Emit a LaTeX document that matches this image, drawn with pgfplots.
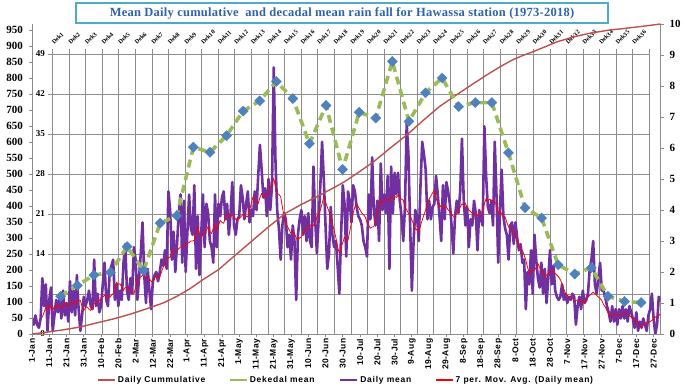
\documentclass[border=0pt]{standalone}
\usepackage{pgfplots}
\pgfplotsset{compat=1.18}
\usepackage{pgfplotstable}
\usepackage{fontspec}
\setmainfont{Liberation Serif}
\newfontfamily\lsans{Liberation Sans}[LetterSpace=5]
\newfontfamily\lsansleg{Liberation Sans}[LetterSpace=9]
\newfontfamily\titlefont{Liberation Serif}[LetterSpace=2]
\definecolor{gridgray}{RGB}{140,140,140}
\definecolor{dailypurple}{RGB}{112,48,160}
\definecolor{dekgreen}{RGB}{155,187,89}
\definecolor{dekblue}{RGB}{79,129,189}
\definecolor{cumred}{RGB}{192,80,77}
\definecolor{mared}{RGB}{255,0,0}
\definecolor{titleblue}{RGB}{45,100,170}
\definecolor{titleframe}{RGB}{75,172,198}

\pgfplotstableread[row sep=\\]{v\\
0.5\\0.3\\0.6\\0.3\\0.2\\0.5\\1.8\\0.9\\1.6\\0.1\\
1.1\\1.5\\0.1\\0.6\\1.1\\0.7\\1.2\\0.5\\1.4\\0.6\\
1.0\\0.4\\1.7\\0.7\\1.4\\0.6\\1.9\\0.8\\0.1\\0.6\\
1.2\\0.9\\1.1\\1.4\\0.9\\0.8\\2.4\\0.9\\1.3\\0.7\\
0.9\\1.6\\2.3\\1.1\\0.9\\2.0\\2.2\\2.4\\1.1\\1.6\\
0.9\\1.4\\1.1\\2.3\\2.9\\1.4\\1.1\\1.8\\1.3\\2.8\\
2.4\\1.1\\1.8\\2.6\\3.6\\1.9\\1.0\\2.1\\1.4\\0.8\\
1.7\\1.9\\2.0\\1.7\\2.0\\2.4\\2.2\\2.7\\2.1\\4.6\\
4.0\\2.4\\3.3\\2.0\\2.9\\3.9\\4.5\\2.3\\4.3\\2.0\\
3.3\\4.5\\3.4\\3.2\\4.8\\2.1\\3.8\\1.9\\3.2\\4.5\\
2.8\\4.2\\3.9\\3.0\\2.8\\2.3\\4.5\\2.8\\4.2\\3.8\\
4.4\\4.6\\3.7\\4.2\\3.2\\3.9\\4.9\\3.5\\3.2\\3.7\\
3.8\\4.8\\4.4\\3.7\\4.2\\4.6\\3.6\\4.0\\3.8\\4.6\\
4.0\\5.1\\6.1\\5.3\\4.4\\4.7\\3.8\\5.0\\4.0\\4.8\\
8.6\\5.6\\4.0\\3.4\\2.4\\3.5\\3.9\\3.7\\2.8\\3.2\\
2.4\\3.5\\3.0\\1.1\\3.2\\3.7\\4.0\\3.2\\3.8\\3.0\\
3.9\\3.0\\2.8\\5.4\\3.7\\2.6\\3.7\\4.8\\6.2\\5.0\\
3.5\\2.1\\2.6\\4.1\\3.2\\2.8\\3.0\\2.2\\1.3\\3.2\\
4.8\\4.2\\2.5\\4.6\\4.3\\3.6\\4.8\\4.6\\4.1\\3.8\\
3.7\\3.5\\3.0\\2.8\\2.5\\4.5\\3.7\\5.7\\4.0\\3.5\\
4.3\\3.0\\5.5\\4.0\\4.5\\3.9\\5.1\\2.1\\5.4\\3.9\\
5.2\\4.5\\5.2\\4.3\\3.8\\3.0\\4.1\\6.8\\5.8\\3.5\\
1.4\\3.0\\4.0\\3.8\\3.0\\4.8\\6.2\\5.8\\5.3\\3.7\\
4.3\\3.7\\4.1\\4.2\\5.1\\4.5\\3.8\\3.0\\4.8\\3.7\\
4.9\\4.6\\4.2\\3.5\\2.6\\3.8\\4.3\\3.9\\4.6\\6.3\\
4.4\\3.5\\4.1\\2.8\\3.7\\3.5\\4.3\\3.9\\2.7\\4.0\\
3.7\\3.5\\6.7\\5.1\\4.1\\3.9\\4.3\\3.5\\6.2\\4.5\\
2.3\\4.0\\5.3\\3.8\\3.4\\3.2\\2.4\\3.5\\3.6\\2.9\\
3.6\\3.1\\2.7\\2.9\\2.3\\2.4\\0.8\\2.0\\1.6\\2.7\\
1.3\\3.2\\2.4\\1.8\\1.5\\2.3\\1.3\\2.1\\1.0\\1.8\\
2.7\\1.6\\2.2\\1.4\\1.2\\1.1\\1.2\\1.6\\1.1\\1.3\\
1.0\\1.2\\1.1\\1.3\\1.2\\0.3\\0.9\\1.2\\0.8\\1.4\\
1.0\\1.1\\1.3\\2.1\\2.4\\3.0\\1.6\\1.3\\1.8\\2.3\\
1.4\\1.4\\1.2\\0.9\\0.7\\0.4\\0.9\\0.4\\0.8\\0.3\\
0.8\\0.5\\0.9\\0.5\\0.8\\0.4\\0.9\\0.7\\0.5\\0.2\\
0.7\\0.1\\0.4\\0.2\\0.5\\0.3\\0.1\\0.6\\0.8\\1.3\\
0.5\\0.0\\0.3\\1.2\\1.1\\
}\daily

\pgfplotstableread[row sep=\\]{v\\
0.54\\0.70\\0.87\\0.80\\0.92\\0.85\\0.76\\0.90\\0.87\\0.95\\
0.87\\0.82\\0.92\\1.00\\0.98\\0.90\\0.92\\1.05\\1.03\\0.95\\
1.03\\1.10\\1.08\\0.90\\0.76\\0.85\\0.87\\0.80\\0.76\\0.90\\
0.98\\0.98\\1.05\\1.08\\1.15\\1.19\\1.25\\1.19\\1.15\\1.19\\
1.25\\1.30\\1.45\\1.67\\1.60\\1.62\\1.50\\1.41\\1.50\\1.51\\
1.45\\1.41\\1.35\\1.30\\1.50\\1.73\\1.80\\1.84\\1.90\\1.84\\
1.80\\1.84\\1.78\\1.70\\1.67\\1.80\\1.89\\1.85\\1.84\\2.00\\
2.16\\2.25\\2.38\\2.45\\2.49\\2.60\\2.70\\2.65\\2.70\\2.75\\
2.81\\2.80\\2.86\\2.90\\2.92\\2.95\\3.00\\3.00\\3.03\\3.30\\
3.46\\3.20\\3.13\\3.20\\3.24\\3.35\\3.46\\3.30\\3.24\\3.40\\
3.57\\3.35\\3.50\\3.67\\3.60\\3.57\\3.75\\3.89\\3.80\\3.78\\
3.85\\3.78\\3.70\\3.67\\3.72\\3.78\\3.85\\3.89\\3.80\\3.78\\
4.00\\4.21\\4.43\\4.32\\4.25\\4.21\\4.40\\4.53\\4.45\\4.43\\
4.50\\4.53\\4.75\\4.85\\5.02\\4.75\\4.53\\4.50\\4.43\\4.10\\
3.78\\3.60\\3.46\\3.35\\3.24\\3.30\\3.24\\3.10\\3.03\\3.10\\
3.13\\3.25\\3.35\\3.40\\3.46\\3.50\\3.46\\3.50\\3.57\\3.78\\
3.90\\4.00\\4.20\\4.43\\4.25\\4.10\\3.95\\3.78\\3.55\\3.35\\
3.10\\2.81\\2.60\\2.81\\2.95\\3.13\\3.00\\3.03\\3.30\\3.60\\
3.90\\4.10\\4.21\\4.10\\4.00\\3.90\\3.85\\3.78\\3.60\\3.50\\
3.41\\3.45\\3.46\\3.70\\3.95\\4.10\\4.32\\4.25\\4.30\\4.35\\
4.30\\4.32\\4.40\\4.35\\4.45\\4.40\\4.48\\4.40\\4.35\\4.32\\
4.10\\4.00\\3.90\\3.80\\3.67\\3.55\\3.40\\3.35\\3.30\\3.50\\
3.67\\3.85\\4.00\\4.21\\4.35\\4.45\\4.55\\4.64\\4.40\\4.20\\
4.10\\4.15\\4.05\\4.10\\4.10\\4.00\\3.95\\3.85\\3.80\\3.78\\
3.90\\4.00\\4.10\\4.20\\4.15\\4.21\\4.10\\4.00\\3.95\\3.89\\
3.85\\3.90\\3.80\\3.85\\3.89\\4.00\\4.20\\4.37\\4.30\\4.35\\
4.30\\4.32\\4.25\\4.20\\3.89\\4.00\\3.85\\3.80\\3.78\\3.60\\
3.46\\3.40\\3.35\\3.25\\3.13\\2.95\\2.81\\2.75\\2.70\\2.55\\
2.38\\2.15\\1.95\\2.00\\2.05\\2.05\\2.15\\2.27\\2.15\\2.05\\
1.95\\1.84\\1.90\\1.95\\2.00\\2.05\\2.00\\1.95\\1.90\\1.84\\
1.75\\1.62\\1.45\\1.30\\1.25\\1.19\\1.15\\1.14\\1.10\\1.08\\
1.10\\1.08\\1.05\\1.08\\0.98\\1.10\\1.19\\1.25\\1.30\\1.35\\
1.30\\1.25\\1.19\\1.15\\1.08\\0.95\\0.87\\0.75\\0.65\\0.60\\
0.54\\0.60\\0.65\\0.62\\0.60\\0.63\\0.65\\0.66\\0.65\\0.62\\
0.60\\0.54\\0.50\\0.44\\0.40\\0.33\\0.28\\0.22\\0.28\\0.33\\
0.36\\0.38\\0.40\\0.44\\0.50\\0.54\\0.58\\0.60\\0.65\\
}\movavg

\pgfplotstableread{
d v
1 0
10 6
19 13
29 22
38 34
48 47
58 62
68 80
77 97
85 118
92 140
100 170
109 201
118 243
128 289
138 335
148 378
157 405
167 432
175 455
182 476
190 505
199 539
208 579
218 622
227 665
237 711
247 748
257 784
265 812
272 835
279 856
285 870
292 884
300 902
305 913
314 928
324 940
334 949
344 955
355 962
365 969
}\cumul

\pgfplotstableread{
k v
1 6.6
2 8.5
3 10.3
4 10.8
5 15.3
6 11.1
7 19.4
8 20.7
9 32.7
10 31.8
11 34.7
12 39.0
13 40.8
14 44.2
15 41.2
16 33.3
17 40.0
18 28.8
19 38.8
20 37.8
21 47.7
22 37.2
23 42.2
24 44.8
25 39.8
26 40.5
27 40.5
28 31.7
29 22.1
30 20.3
31 12.1
32 10.5
33 11.6
34 6.6
35 5.7
36 5.5
}\dekad

\begin{document}
\begin{tikzpicture}
\useasboundingbox (0pt,0pt) rectangle (687pt,390pt);

% inner (dekadal) frame with grid
\begin{axis}[
  at={(52.4pt,56pt)}, anchor=south west, scale only axis,
  width=597pt, height=280pt,
  xmin=0.5, xmax=36.5, ymin=0, ymax=49,
  axis x line*=top, axis y line*=left,
  axis line style={-, draw=gridgray, line width=0.8pt},
  xtick={1,...,36},
  xticklabels={Dek1,Dek2,Dek3,Dek4,Dek5,Dek6,Dek7,Dek8,Dek9,Dek10,Dek11,Dek12,Dek13,Dek14,Dek15,Dek16,Dek17,Dek18,Dek19,Dek20,Dek21,Dek22,Dek23,Dek24,Dek25,Dek26,Dek27,Dek28,Dek29,Dek30,Dek31,Dek32,Dek33,Dek34,Dek35,Dek36},
  minor xtick={0.5,1.5,...,36.5},
  xminorgrids=true, ymajorgrids=true,
  grid style={draw=gridgray, line width=0.8pt},
  minor grid style={draw=gridgray, line width=0.8pt},
  ytick={0,7,...,49},
  tick align=outside,
  major tick length=4pt, minor tick length=5pt,
  tick style={draw=gridgray, line width=0.8pt},
  major x tick style={draw=none},
  xticklabel style={rotate=45, anchor=south west, inner sep=0pt, xshift=-1pt, yshift=8pt,
    font=\bfseries\fontsize{6.2}{6.8}\selectfont},
  yticklabel style={font=\bfseries\fontsize{9}{10}\selectfont},
  /pgf/number format/assume math mode=true,
]
\addplot[draw=none, forget plot] coordinates {(1,0)};
\end{axis}

% right axis: daily mean and moving average
\begin{axis}[
  at={(32pt,56pt)}, anchor=south west, scale only axis,
  width=628.5pt, height=310pt,
  xmin=1, xmax=365, ymin=0, ymax=10,
  axis x line*=bottom, axis y line*=right,
  axis line style={-, draw=gridgray, line width=0.8pt},
  xtick={1,11,...,361},
  xticklabels={1-Jan,11-Jan,21-Jan,31-Jan,10-Feb,20-Feb,2-Mar,12-Mar,22-Mar,1-Apr,11-Apr,21-Apr,1-May,11-May,21-May,31-May,10-Jun,20-Jun,30-Jun,10-Jul,20-Jul,30-Jul,9-Aug,19-Aug,29-Aug,8-Sep,18-Sep,28-Sep,8-Oct,18-Oct,28-Oct,7-Nov,17-Nov,27-Nov,7-Dec,17-Dec,27-Dec},
  ytick={0,...,10},
  tick align=outside, major tick length=3.5pt,
  tick style={draw=gridgray, line width=0.8pt},
  xticklabel style={rotate=90, anchor=east, inner sep=1pt,
    font=\lsans\bfseries\fontsize{8.5}{9}\selectfont},
  yticklabel style={xshift=2pt, font=\bfseries\fontsize{11}{12}\selectfont},
  /pgf/number format/assume math mode=true,
]
\addplot[draw=dailypurple, line width=2.6pt, line join=round, forget plot]
  table[x expr=\coordindex+1, y=v] {\daily};
\addplot[draw=mared, line width=0.8pt, line join=round, forget plot]
  table[x expr=\coordindex+7, y=v] {\movavg};
\end{axis}

% left outer axis: cumulative + legend
\begin{axis}[
  at={(32pt,56pt)}, anchor=south west, scale only axis,
  width=628.5pt, height=310pt,
  xmin=1, xmax=365, ymin=0, ymax=969,
  axis x line=none, axis y line*=left,
  axis line style={-, draw=gridgray, line width=0.8pt},
  ytick={0,50,...,950},
  tick align=outside, major tick length=3.5pt,
  tick style={draw=gridgray, line width=0.8pt},
  yticklabel style={xshift=-2pt, font=\bfseries\fontsize{11}{12}\selectfont},
  /pgf/number format/assume math mode=true,
  legend columns=4,
  legend cell align=left,
  legend style={at={(0.5,-0.148)}, anchor=center, draw=none, fill=none,
    font=\lsansleg\bfseries\fontsize{8.5}{9}\selectfont,
    /tikz/every even column/.append style={column sep=22pt}},
]
\addplot[draw=cumred, line width=1.4pt, forget plot] table[x=d, y=v] {\cumul};
\addlegendimage{line legend, draw=cumred, line width=1.4pt}
\addlegendentry{Daily Cummulative}
\addlegendimage{line legend, draw=dekgreen, line width=1.3pt}
\addlegendentry{Dekedal mean}
\addlegendimage{line legend, draw=dailypurple, line width=2.6pt}
\addlegendentry{Daily mean}
\addlegendimage{line legend, draw=red, line width=1.3pt}
\addlegendentry{7 per. Mov. Avg. (Daily mean)}
\end{axis}

% dekadal mean plot on top
\begin{axis}[
  at={(52.4pt,56pt)}, anchor=south west, scale only axis,
  width=597pt, height=280pt,
  xmin=0.5, xmax=36.5, ymin=0, ymax=49,
  hide axis, clip=false,
]
\addplot[draw=dekgreen, line width=3.6pt, dash pattern=on 8pt off 5pt,
  mark=square*, mark size=3.6pt,
  mark options={solid, fill=dekblue, draw=dekblue, rotate=45, line width=0.3pt}]
  table[x=k, y=v] {\dekad};
\end{axis}

\node[draw=titleframe, line width=1.5pt, fill=white, minimum width=532pt,
  minimum height=20pt, inner sep=0pt, text=titleblue,
  font=\titlefont\bfseries\fontsize{12.5}{14}\selectfont] at (342pt,377pt)
  {Mean Daily cumulative\ \ and decadal mean rain fall for Hawassa station (1973-2018)};
\end{tikzpicture}
\end{document}
